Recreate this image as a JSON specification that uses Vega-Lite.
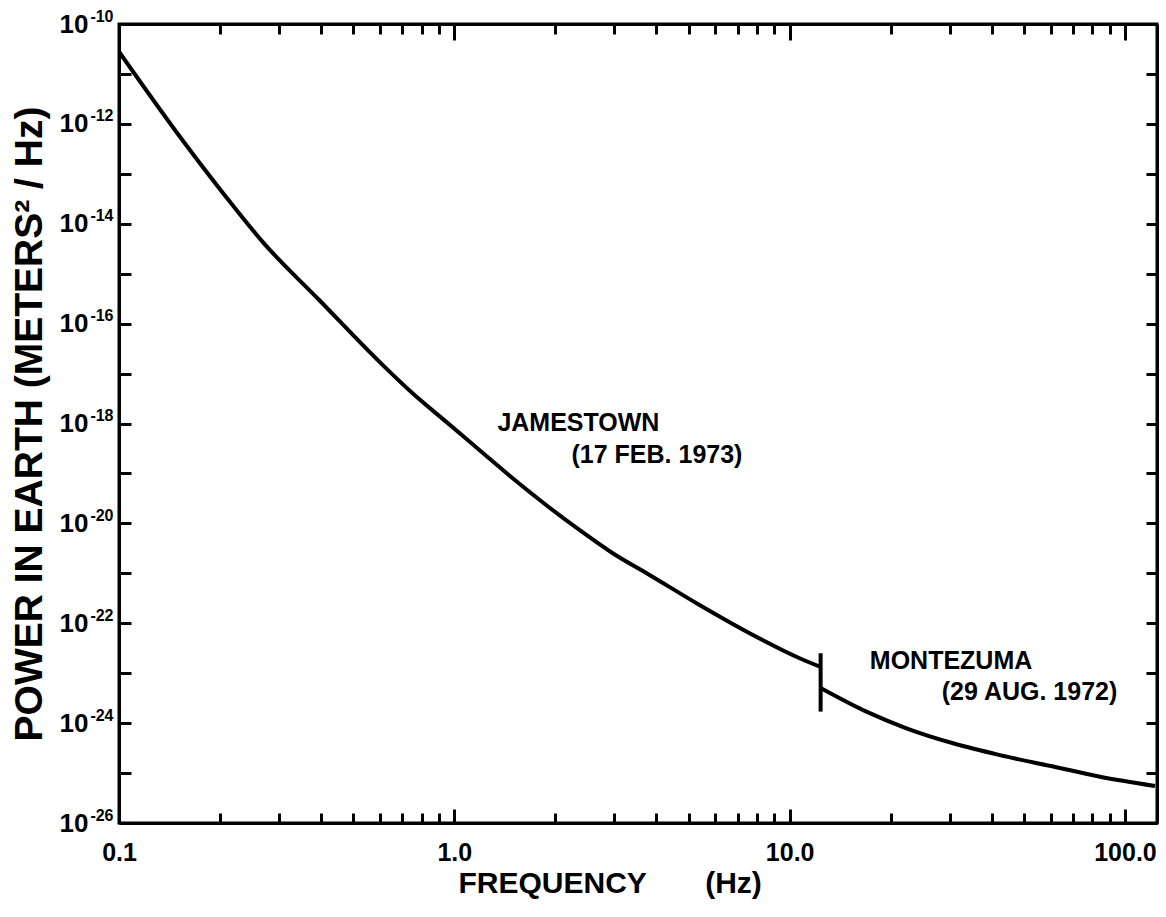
{
  "$schema": "https://vega.github.io/schema/vega-lite/v6.json",
  "width": 1038,
  "height": 799,
  "autosize": {"type": "none"},
  "padding": {"left": 119, "top": 24, "right": 9, "bottom": 94},
  "background": "white",
  "config": {
    "view": {"stroke": "black", "strokeWidth": 3},
    "font": "Liberation Sans"
  },
  "datasets": {
    "jamestown": [
      {"f": 0.1, "P": 2.79e-11},
      {"f": 0.1545, "P": 4.75e-13},
      {"f": 0.2083, "P": 3.48e-14},
      {"f": 0.2677, "P": 4.38e-15},
      {"f": 0.3954, "P": 2.97e-16},
      {"f": 0.6109, "P": 1.49e-17},
      {"f": 0.7507, "P": 4.03e-18},
      {"f": 0.9445, "P": 1.09e-18},
      {"f": 1.1875, "P": 2.95e-19},
      {"f": 1.4928, "P": 8.0e-20},
      {"f": 1.878, "P": 2.33e-20},
      {"f": 2.361, "P": 7.38e-21},
      {"f": 2.968, "P": 2.52e-21},
      {"f": 3.821, "P": 9.27e-22},
      {"f": 5.386, "P": 2.32e-22},
      {"f": 7.596, "P": 6.31e-23},
      {"f": 10.71, "P": 1.99e-23},
      {"f": 12.37, "P": 1.33e-23}
    ],
    "montezuma": [
      {"f": 12.37, "P": 5.06e-24},
      {"f": 16.94, "P": 1.70e-24},
      {"f": 22.30, "P": 7.89e-25},
      {"f": 30.73, "P": 3.95e-25},
      {"f": 42.36, "P": 2.29e-25},
      {"f": 61.09, "P": 1.35e-25},
      {"f": 84.24, "P": 8.47e-26},
      {"f": 122.9, "P": 5.52e-26}
    ],
    "bar": [
      {"f": 12.37, "hi": 2.51e-23, "lo": 1.70e-24}
    ],
    "labels": [
      {"f": 1.344, "P": 1.02e-18, "text": "JAMESTOWN"},
      {"f": 2.236, "P": 2.34e-19, "text": "(17 FEB. 1973)"},
      {"f": 17.34, "P": 1.76e-23, "text": "MONTEZUMA"},
      {"f": 28.42, "P": 4.21e-24, "text": "(29 AUG. 1972)"}
    ]
  },
  "layer": [
    {
      "data": {"name": "jamestown"},
      "mark": {"type": "line", "color": "black", "strokeWidth": 4, "interpolate": "monotone", "clip": true},
      "encoding": {
        "x": {
          "field": "f", "type": "quantitative",
          "scale": {"type": "log", "domain": [0.1, 124.6], "nice": false},
          "axis": {
            "orient": "bottom",
            "values": [0.1, 1, 10, 100],
            "tickSize": -14, "tickWidth": 3, "tickColor": "black",
            "domainWidth": 3, "domainColor": "black",
            "grid": false,
            "labelExpr": "datum.value == 0.1 ? '0.1' : datum.value == 1 ? '1.0' : datum.value == 10 ? '10.0' : '100.0'",
            "labelFont": "Liberation Sans", "labelFontSize": 25, "labelFontWeight": "bold", "labelColor": "black",
            "labelPadding": 31, "labelOverlap": false, "labelFlush": false,
            "title": "FREQUENCY\u00a0\u00a0\u00a0\u00a0\u00a0\u00a0\u00a0(Hz)",
            "titleFont": "Liberation Sans", "titleFontSize": 30, "titleFontWeight": "bold", "titleColor": "black",
            "titleX": 339, "titleY": 60, "titleAlign": "left", "titleBaseline": "middle"
          }
        },
        "y": {
          "field": "P", "type": "quantitative",
          "scale": {"type": "log", "domain": [1e-26, 1e-10], "nice": false},
          "axis": {
            "orient": "left",
            "values": [1e-26,1e-25,1e-24,1e-23,1e-22,1e-21,1e-20,1e-19,1e-18,1e-17,1e-16,1e-15,1e-14,1e-13,1e-12,1e-11,1e-10],
            "tickSize": -12, "tickWidth": 3, "tickColor": "black",
            "domainWidth": 3, "domainColor": "black",
            "grid": false,
            "labelExpr": "abs(round(log(datum.value)/LN10)) % 2 == 0 ? '10' : ''",
            "labelFont": "Liberation Sans", "labelFontSize": 26, "labelFontWeight": "bold", "labelColor": "black",
            "labelPadding": 43, "labelOverlap": false, "labelFlush": false,
            "title": "POWER IN EARTH  (METERS² / Hz)",
            "titleFont": "Liberation Sans", "titleFontSize": 39, "titleFontWeight": "bold", "titleColor": "black",
            "titlePadding": 10
          }
        }
      }
    },
    {
      "data": {"name": "montezuma"},
      "mark": {"type": "line", "color": "black", "strokeWidth": 4, "interpolate": "monotone", "clip": true},
      "encoding": {
        "x": {
          "field": "f", "type": "quantitative",
          "axis": {
            "orient": "top",
            "values": [0.1, 1, 10, 100],
            "tickSize": -16, "tickWidth": 3, "tickColor": "black",
            "domainWidth": 3, "domainColor": "black",
            "grid": false, "labels": false, "title": null
          }
        },
        "y": {
          "field": "P", "type": "quantitative",
          "axis": {
            "orient": "right",
            "values": [1e-26,1e-25,1e-24,1e-23,1e-22,1e-21,1e-20,1e-19,1e-18,1e-17,1e-16,1e-15,1e-14,1e-13,1e-12,1e-11,1e-10],
            "tickSize": -11, "tickWidth": 3, "tickColor": "black",
            "domainWidth": 3, "domainColor": "black",
            "grid": false, "labels": false, "title": null
          }
        }
      }
    },
    {
      "data": {"name": "bar"},
      "mark": {"type": "rule", "color": "black", "strokeWidth": 4},
      "encoding": {
        "x": {
          "field": "f", "type": "quantitative",
          "axis": {
            "orient": "top",
            "values": [0.2,0.3,0.4,0.5,0.6,0.7,0.8,0.9,2,3,4,5,6,7,8,9,20,30,40,50,60,70,80,90],
            "tickSize": -10, "tickWidth": 3, "tickColor": "black",
            "domain": false,
            "grid": false, "labels": false, "title": null
          }
        },
        "y": {
          "field": "hi", "type": "quantitative",
          "axis": {
            "orient": "left",
            "values": [1e-26,1e-24,1e-22,1e-20,1e-18,1e-16,1e-14,1e-12,1e-10],
            "ticks": false, "domain": false, "grid": false,
            "labelExpr": "'-' + format(abs(round(log(datum.value)/LN10)), 'd')",
            "labelFont": "Liberation Sans", "labelFontSize": 16, "labelFontWeight": "bold", "labelColor": "black",
            "labelPadding": 6, "labelOffset": -8, "labelOverlap": false, "labelFlush": false,
            "title": null
          }
        },
        "y2": {"field": "lo"}
      }
    },
    {
      "data": {"name": "labels"},
      "mark": {"type": "text", "align": "left", "baseline": "middle", "font": "Liberation Sans", "fontSize": 25, "fontWeight": "bold", "color": "black"},
      "encoding": {
        "x": {
          "field": "f", "type": "quantitative",
          "axis": {
            "orient": "bottom",
            "values": [0.2,0.3,0.4,0.5,0.6,0.7,0.8,0.9,2,3,4,5,6,7,8,9,20,30,40,50,60,70,80,90],
            "tickSize": -10, "tickWidth": 3, "tickColor": "black",
            "domain": false,
            "grid": false, "labels": false, "title": null
          }
        },
        "y": {"field": "P", "type": "quantitative", "axis": null},
        "text": {"field": "text"}
      }
    }
  ],
  "resolve": {"axis": {"x": "independent", "y": "independent"}}
}
